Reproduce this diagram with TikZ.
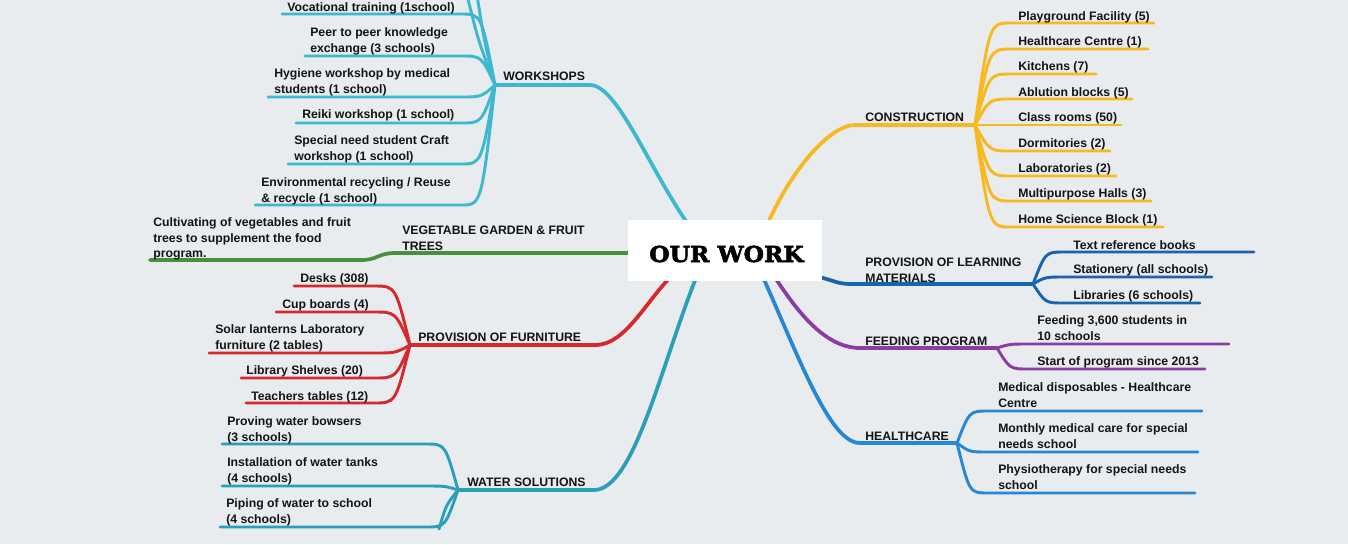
\documentclass[tikz,border=0pt]{standalone}
\usepackage{fontspec}
\setmainfont{Liberation Sans}
\newfontfamily\titlefont[BoldFeatures={FakeBold=2.5}]{DejaVu Serif}
\usepackage{graphicx}
\definecolor{bgc}{HTML}{E8ECEF}
\definecolor{wsc}{HTML}{3DB8CF}
\definecolor{grc}{HTML}{46913C}
\definecolor{rdc}{HTML}{D7282D}
\definecolor{wtc}{HTML}{2AA0B8}
\definecolor{orc}{HTML}{F8B91E}
\definecolor{lmc}{HTML}{1964AF}
\definecolor{ppc}{HTML}{8C3CA5}
\definecolor{hcc}{HTML}{2887D2}
\definecolor{txc}{HTML}{141414}
\tikzset{
  txt/.style={font=\bfseries\fontsize{9.2}{11.6}\selectfont, inner sep=0pt, anchor=north west, align=left, text=txc},
  mainline/.style={line width=2.8pt, line cap=round},
  leafline/.style={line width=2.2pt, line cap=round},
}
\newcommand{\leaf}[6]{%
  \pgfmathsetmacro\cA{#5+0.6*(#2-#5)}%
  \draw[leafline,#1] (#4,#6) -- (#5,#6) .. controls (\cA,#6) .. (#2,#3);}
\begin{document}
\begin{tikzpicture}[x=0.75pt,y=-0.75pt]
\useasboundingbox (0,0) rectangle (1348,544);
\fill[bgc] (0,0) rectangle (1348,544);

% ---------- hubs ----------
\coordinate (hws) at (495,85);
\coordinate (hfu) at (410,345);
\coordinate (hwt) at (458,490);
\coordinate (hco) at (975,125);
\coordinate (hlm) at (1033,284);
\coordinate (hfp) at (997,348);
\coordinate (hhc) at (957,443);

% ---------- main branches ----------
\draw[mainline,wsc] (hws) -- (590,85) .. controls (620,85) and (655,185) .. (700,240);
\draw[mainline,grc] (628,253) -- (395,253) .. controls (378,253) and (378,260) .. (361,260) -- (150,260);
\draw[mainline,rdc] (hfu) -- (595,345) .. controls (628,345) and (648,295) .. (680,268);
\draw[mainline,wtc] (hwt) -- (594,490) .. controls (635,490) and (662,360) .. (700,268);
\draw[mainline,orc] (hco) -- (855,125) .. controls (830,125) and (790,170) .. (765,230);
\draw[mainline,lmc] (hlm) -- (850,284) .. controls (835,284) and (830,278) .. (812,276);
\draw[mainline,ppc] (hfp) -- (860,348) .. controls (820,348) and (790,300) .. (770,270);
\draw[mainline,hcc] (hhc) -- (860,443) .. controls (830,443) and (800,360) .. (762,275);

% ---------- workshops ----------
\leaf{wsc}{495}{85}{282}{461}{14}
\leaf{wsc}{495}{85}{305}{461}{56}
\leaf{wsc}{495}{85}{268}{461}{97}
\leaf{wsc}{495}{85}{296}{461}{123}
\leaf{wsc}{495}{85}{288}{461}{164}
\leaf{wsc}{495}{85}{255}{461}{205}
\draw[leafline,wsc] (hws) .. controls (478,40) .. (467,-5);
\draw[leafline,wsc] (hws) .. controls (484,40) .. (477,-5);
\node[txt] (voc) at (287,2.7) {Vocational training (1school)};
\node[txt] (peer) at (310,27.7) {Peer to peer knowledge\\exchange (3 schools)};
\node[txt] (hyg) at (274,68.7) {Hygiene workshop by medical\\students (1 school)};
\node[txt] (rei) at (302,109.7) {Reiki workshop (1 school)};
\node[txt] (spc) at (294,135.7) {Special need student Craft\\workshop (1 school)};
\node[txt] (env) at (261,177.7) {Environmental recycling / Reuse\\\& recycle (1 school)};
\node[txt] (ws) at (503,71.7) {WORKSHOPS};

% ---------- vegetable garden ----------
\node[txt] (veg) at (402,225.7) {VEGETABLE GARDEN \& FRUIT\\TREES};
\node[txt] (cult) at (153,217.7) {Cultivating of vegetables and fruit\\trees to supplement the food\\program.};

% ---------- furniture ----------
\leaf{rdc}{410}{345}{294}{374}{286}
\leaf{rdc}{410}{345}{276}{374}{312}
\leaf{rdc}{410}{345}{209}{374}{353}
\leaf{rdc}{410}{345}{241}{374}{378}
\leaf{rdc}{410}{345}{246}{374}{403}
\node[txt] (desk) at (300,273.7) {Desks (308)};
\node[txt] (cup) at (282,299.7) {Cup boards (4)};
\node[txt] (sol) at (215,324.7) {Solar lanterns Laboratory\\furniture (2 tables)};
\node[txt] (lib) at (246,365.7) {Library Shelves (20)};
\node[txt] (tea) at (251,391.7) {Teachers tables (12)};
\node[txt] (fu) at (418,332.7) {PROVISION OF FURNITURE};

% ---------- water ----------
\leaf{wtc}{458}{490}{222}{426}{444}
\leaf{wtc}{458}{490}{222}{426}{486}
\leaf{wtc}{458}{490}{220}{426}{527}
\draw[leafline,wtc] (hwt) .. controls (446,505) .. (439,529);
\node[txt] (prov) at (227,416.7) {Proving water bowsers\\(3 schools)};
\node[txt] (inst) at (227,457.7) {Installation of water tanks\\(4 schools)};
\node[txt] (pipe) at (226,498.7) {Piping of water to school\\(4 schools)};
\node[txt] (wt) at (467,477.7) {WATER SOLUTIONS};

% ---------- construction ----------
\leaf{orc}{975}{125}{1154}{1011}{23}
\leaf{orc}{975}{125}{1148}{1011}{49}
\leaf{orc}{975}{125}{1096}{1011}{74}
\leaf{orc}{975}{125}{1132}{1011}{99}
\leaf{orc}{975}{125}{1121}{1011}{125}
\leaf{orc}{975}{125}{1110}{1011}{151}
\leaf{orc}{975}{125}{1116}{1011}{176}
\leaf{orc}{975}{125}{1151}{1011}{201}
\leaf{orc}{975}{125}{1163}{1011}{227}
\node[txt] (c1) at (1018,11.7) {Playground Facility (5)};
\node[txt] (c2) at (1018,36.7) {Healthcare Centre (1)};
\node[txt] (c3) at (1018,61.7) {Kitchens (7)};
\node[txt] (c4) at (1018,87.7) {Ablution blocks (5)};
\node[txt] (c5) at (1018,112.7) {Class rooms (50)};
\node[txt] (c6) at (1018,138.7) {Dormitories (2)};
\node[txt] (c7) at (1018,163.7) {Laboratories (2)};
\node[txt] (c8) at (1018,188.7) {Multipurpose Halls (3)};
\node[txt] (c9) at (1018,214.7) {Home Science Block (1)};
\node[txt] (co) at (865,112.7) {CONSTRUCTION};

% ---------- learning materials ----------
\leaf{lmc}{1033}{284}{1254}{1064}{252}
\leaf{lmc}{1033}{284}{1212}{1064}{277}
\leaf{lmc}{1033}{284}{1200}{1064}{303}
\node[txt] (l1) at (1073,240.7) {Text reference books};
\node[txt] (l2) at (1073,264.7) {Stationery (all schools)};
\node[txt] (l3) at (1073,290.7) {Libraries (6 schools)};
\node[txt] (lm) at (865,257.7) {PROVISION OF LEARNING\\MATERIALS};

% ---------- feeding ----------
\leaf{ppc}{997}{348}{1229}{1029}{344}
\leaf{ppc}{997}{348}{1205}{1029}{369}
\node[txt] (f1) at (1037,315.7) {Feeding 3,600 students in\\10 schools};
\node[txt] (f2) at (1037,356.7) {Start of program since 2013};
\node[txt] (fp) at (865,336.7) {FEEDING PROGRAM};

% ---------- healthcare ----------
\leaf{hcc}{957}{443}{1202}{988}{411}
\leaf{hcc}{957}{443}{1198}{988}{452}
\leaf{hcc}{957}{443}{1195}{988}{493}
\node[txt] (h1) at (998,382.7) {Medical disposables - Healthcare\\Centre};
\node[txt] (h2) at (998,423.7) {Monthly medical care for special\\needs school};
\node[txt] (h3) at (998,464.7) {Physiotherapy for special needs\\school};
\node[txt] (hc) at (865,431.7) {HEALTHCARE};

% ---------- centre ----------
\node[fill=white, minimum width=145.5pt, minimum height=45.75pt, inner sep=0pt] (ourwork) at (725,250.5) {};
\node[inner sep=0pt, text=black] (ourworktxt) at (726.5,254)
  {\scalebox{1.06}[1]{\titlefont\bfseries\fontsize{16.5}{18}\selectfont OUR WORK}};
\end{tikzpicture}
\end{document}
